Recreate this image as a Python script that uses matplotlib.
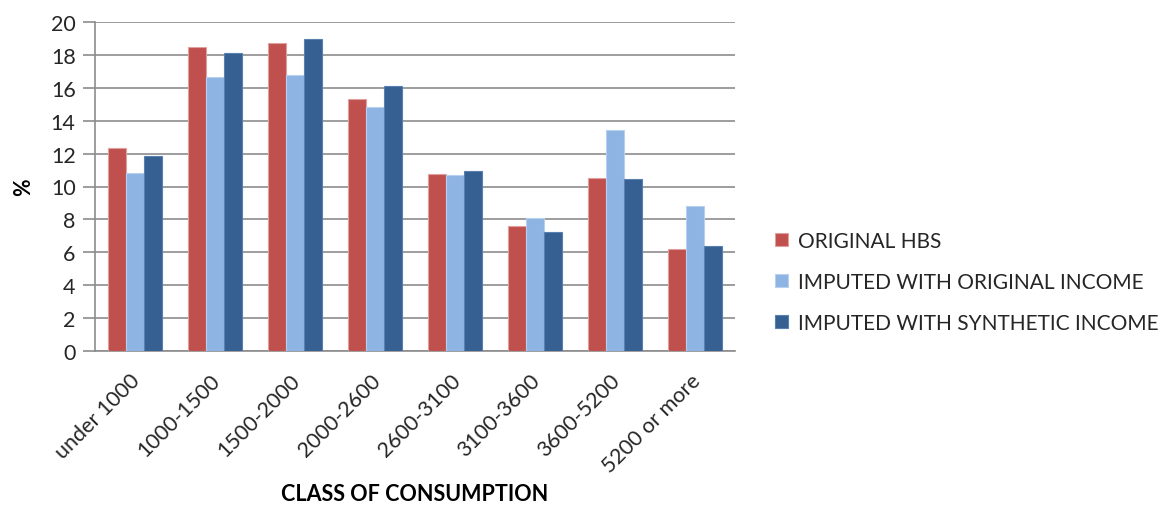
import matplotlib
matplotlib.use("Agg")
import matplotlib.pyplot as plt
import matplotlib.transforms as mtransforms
import numpy as np

categories = ["under 1000", "1000-1500", "1500-2000", "2000-2600",
              "2600-3100", "3100-3600", "3600-5200", "5200 or more"]
original_hbs = [12.35, 18.47, 18.73, 15.29, 10.76, 7.61, 10.49, 6.2]
imputed_original = [10.8, 16.63, 16.75, 14.82, 10.67, 8.1, 13.41, 8.82]
imputed_synthetic = [11.88, 18.1, 18.96, 16.1, 10.97, 7.22, 10.43, 6.37]
series_names = ["ORIGINAL HBS", "IMPUTED WITH ORIGINAL INCOME",
                "IMPUTED WITH SYNTHETIC INCOME"]
colors = ["#C0504D", "#8EB4E3", "#366092"]
edges = ["#E0A0A0", "#B8D0F0", "#5A80B0"]

plt.rcParams['font.family'] = ['Lato', 'DejaVu Sans']

fig = plt.figure(figsize=(11.65, 5.06), dpi=100)
ax = fig.add_axes([95/1165, 1-352/506, 640/1165, 329/506])

x = np.arange(len(categories))
w = 0.225
for i, (vals, c, e, n) in enumerate(zip([original_hbs, imputed_original, imputed_synthetic],
                                         colors, edges, series_names)):
    ax.bar(x + (i - 1) * w, vals, width=w, color=c, edgecolor=e, linewidth=0.8,
           label=n, zorder=3)

ax.set_xlim(-0.5, len(categories) - 0.5)
ax.set_ylim(0, 20)
ax.set_yticks(range(0, 21, 2))
ax.yaxis.grid(True, color="#8C8C8C", linewidth=1.2, zorder=0)
ax.set_axisbelow(True)
for s in ["top", "right"]:
    ax.spines[s].set_visible(False)
ax.spines["left"].set_color("#8C8C8C")
ax.spines["left"].set_linewidth(1.2)
ax.spines["bottom"].set_color("#8C8C8C")
ax.spines["bottom"].set_linewidth(1.2)
ax.tick_params(axis="y", length=9, color="#8C8C8C", width=1.2, labelsize=15.5, pad=5,
               labelcolor="#262626")
ax.tick_params(axis="x", length=0, labelsize=15.5, pad=8, labelcolor="#262626")
ax.set_xticks(x)
ax.set_xticklabels(categories, rotation=45, ha="right", rotation_mode="anchor")
offset = mtransforms.ScaledTranslation(-5/100, -8/100, fig.dpi_scale_trans)
for lab in ax.get_xticklabels():
    lab.set_transform(lab.get_transform() + offset)

fig.text(24/1165, 1-187/506, "%", rotation=90, fontsize=15.5, fontweight="bold",
         ha="center", va="center")
fig.text(415/1165, 1-495/506, "CLASS OF CONSUMPTION", fontsize=15.5, fontweight="bold",
         ha="center", va="center")

leg = ax.legend(loc="center left", frameon=False,
                fontsize=15, handlelength=0.6, handleheight=0.6, handletextpad=0.5,
                labelspacing=1.0, borderaxespad=0, borderpad=0)
leg.set_bbox_to_anchor((775/1165, 1-283/506), transform=fig.transFigure)
for t in leg.get_texts():
    t.set_color("#262626")

fig.savefig("out.png", dpi=100)
